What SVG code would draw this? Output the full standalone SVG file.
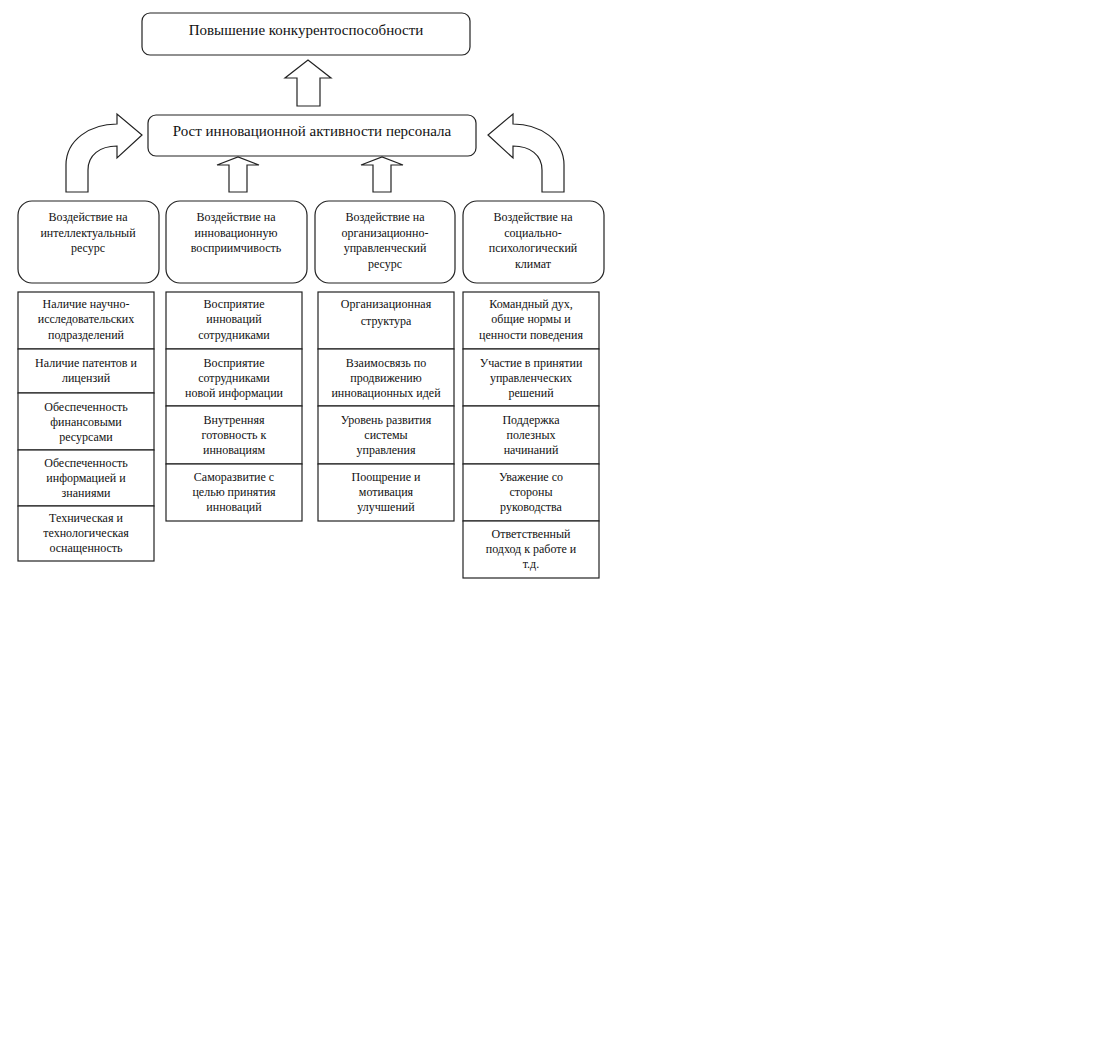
<svg xmlns="http://www.w3.org/2000/svg" width="1096" height="1057" viewBox="0 0 1096 1057">
<style>
rect{fill:#fff;stroke:#222;stroke-width:1.2}
.a{fill:#fff;stroke:#222;stroke-width:1.2;stroke-linejoin:miter}
text{font-family:"Liberation Serif",serif;fill:#111;text-anchor:middle}
.t{font-size:15px}
.s{font-size:12px}
</style>
<rect width="1096" height="1057" style="fill:#fff;stroke:none"/>
<g id="connectors">
<path class="a" d="M297,106 L297,78 L285,78 L308,60 L331,78 L320,78 L320,106 Z"/>
<path class="a" d="M229,192 L229,165 L217,165 L238,157 L259,165 L247,165 L247,192 Z"/>
<path class="a" d="M373,192 L373,165 L361,165 L382,157 L403,165 L391,165 L391,192 Z"/>
<path class="a" d="M66,192 L66,165 C66,140 90,124 117,124 L117,114 L142,135 L117,158 L117,146 C100,146 88,155 88,170 L88,192 Z"/>
<path class="a" transform="translate(630,0) scale(-1,1)" d="M66,192 L66,165 C66,140 90,124 117,124 L117,114 L142,135 L117,158 L117,146 C100,146 88,155 88,170 L88,192 Z"/>
</g>
<g id="top"><rect x="142" y="13" width="328" height="42" rx="8"/><text class="t" x="306" y="35">Повышение конкурентоспособности</text></g>
<g id="mid"><rect x="148" y="115" width="328" height="41" rx="8"/><text class="t" x="312" y="136">Рост инновационной активности персонала</text></g>
<g id="c1"><rect x="18" y="201" width="141" height="82" rx="14"/><text class="s" x="88" y="221">Воздействие на</text><text class="s" x="88" y="237">интеллектуальный</text><text class="s" x="88" y="252">ресурс</text></g>
<g id="c2"><rect x="166" y="201" width="141" height="82" rx="14"/><text class="s" x="236" y="221">Воздействие на</text><text class="s" x="236" y="237">инновационную</text><text class="s" x="236" y="252">восприимчивость</text></g>
<g id="c3"><rect x="315" y="201" width="140" height="82" rx="14"/><text class="s" x="385" y="221">Воздействие на</text><text class="s" x="385" y="237">организационно-</text><text class="s" x="385" y="252">управленческий</text><text class="s" x="385" y="268">ресурс</text></g>
<g id="c4"><rect x="463" y="201" width="141" height="82" rx="14"/><text class="s" x="533" y="221">Воздействие на</text><text class="s" x="533" y="237">социально-</text><text class="s" x="533" y="252">психологический</text><text class="s" x="533" y="268">климат</text></g>
<g id="l1">
<rect x="18" y="292" width="136" height="57"/><text class="s" x="86" y="308">Наличие научно-</text><text class="s" x="86" y="323">исследовательских</text><text class="s" x="86" y="339">подразделений</text>
<rect x="18" y="349" width="136" height="44"/><text class="s" x="86" y="367">Наличие патентов и</text><text class="s" x="86" y="382">лицензий</text>
<rect x="18" y="393" width="136" height="57"/><text class="s" x="86" y="411">Обеспеченность</text><text class="s" x="86" y="426">финансовыми</text><text class="s" x="86" y="441">ресурсами</text>
<rect x="18" y="450" width="136" height="56"/><text class="s" x="86" y="467">Обеспеченность</text><text class="s" x="86" y="482">информацией и</text><text class="s" x="86" y="497">знаниями</text>
<rect x="18" y="506" width="136" height="55"/><text class="s" x="86" y="522">Техническая и</text><text class="s" x="86" y="537">технологическая</text><text class="s" x="86" y="552">оснащенность</text>
</g>
<g id="l2">
<rect x="166" y="292" width="136" height="57"/><text class="s" x="234" y="308">Восприятие</text><text class="s" x="234" y="323">инноваций</text><text class="s" x="234" y="339">сотрудниками</text>
<rect x="166" y="349" width="136" height="57"/><text class="s" x="234" y="367">Восприятие</text><text class="s" x="234" y="382">сотрудниками</text><text class="s" x="234" y="397">новой информации</text>
<rect x="166" y="406" width="136" height="58"/><text class="s" x="234" y="424">Внутренняя</text><text class="s" x="234" y="439">готовность к</text><text class="s" x="234" y="454">инновациям</text>
<rect x="166" y="464" width="136" height="57"/><text class="s" x="234" y="481">Саморазвитие с</text><text class="s" x="234" y="496">целью принятия</text><text class="s" x="234" y="511">инноваций</text>
</g>
<g id="l3">
<rect x="318" y="292" width="136" height="57"/><text class="s" x="386" y="308">Организационная</text><text class="s" x="386" y="325">структура</text>
<rect x="318" y="349" width="136" height="57"/><text class="s" x="386" y="367">Взаимосвязь по</text><text class="s" x="386" y="382">продвижению</text><text class="s" x="386" y="397">инновационных идей</text>
<rect x="318" y="406" width="136" height="58"/><text class="s" x="386" y="424">Уровень развития</text><text class="s" x="386" y="439">системы</text><text class="s" x="386" y="454">управления</text>
<rect x="318" y="464" width="136" height="57"/><text class="s" x="386" y="481">Поощрение и</text><text class="s" x="386" y="496">мотивация</text><text class="s" x="386" y="511">улучшений</text>
</g>
<g id="l4">
<rect x="463" y="292" width="136" height="57"/><text class="s" x="531" y="308">Командный дух,</text><text class="s" x="531" y="323">общие нормы и</text><text class="s" x="531" y="339">ценности поведения</text>
<rect x="463" y="349" width="136" height="57"/><text class="s" x="531" y="367">Участие в принятии</text><text class="s" x="531" y="382">управленческих</text><text class="s" x="531" y="397">решений</text>
<rect x="463" y="406" width="136" height="58"/><text class="s" x="531" y="424">Поддержка</text><text class="s" x="531" y="439">полезных</text><text class="s" x="531" y="454">начинаний</text>
<rect x="463" y="464" width="136" height="57"/><text class="s" x="531" y="481">Уважение со</text><text class="s" x="531" y="496">стороны</text><text class="s" x="531" y="511">руководства</text>
<rect x="463" y="521" width="136" height="57"/><text class="s" x="531" y="538">Ответственный</text><text class="s" x="531" y="553">подход к работе и</text><text class="s" x="531" y="568">т.д.</text>
</g>
</svg>
